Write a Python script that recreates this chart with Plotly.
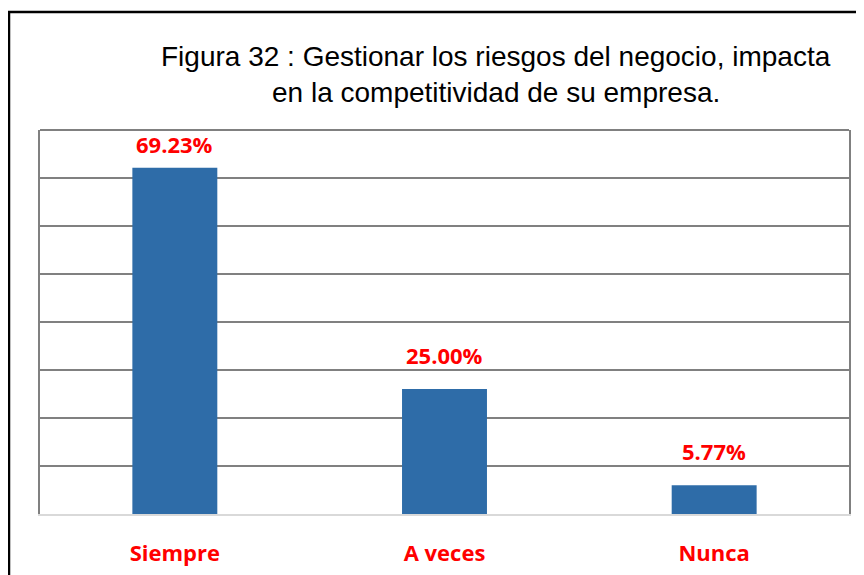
import plotly.graph_objects as go

categories = ["Siempre", "A veces", "Nunca"]
values = [69.23, 25.00, 5.77]
value_labels = ["69.23%", "25.00%", "5.77%"]
title_lines = ["Figura 32 : Gestionar los riesgos del negocio, impacta",
               "en la competitividad de su empresa."]

RED = "#FF0000"
BAR = "#2E6CA8"
GRID = "#808080"
LABEL_FONT = dict(family="Open Sans", size=22, color=RED)

fig = go.Figure()
fig.add_trace(go.Bar(
    x=categories, y=values, width=0.315,
    marker=dict(color=BAR, line=dict(width=0)),
    hoverinfo="skip",
))

# data labels above bars
shifts = [24, 34, 34]
for c, v, t, s in zip(categories, values, value_labels, shifts):
    fig.add_annotation(x=c, y=v, text="<b>%s</b>" % t, showarrow=False,
                       yanchor="middle", yshift=s, font=LABEL_FONT)

# title (two lines)
fig.add_annotation(xref="paper", yref="paper", x=0.5637, y=(514 - 57) / 384,
                   text=title_lines[0], showarrow=False, yanchor="middle",
                   font=dict(family="Liberation Sans", size=28, color="#000000"))
fig.add_annotation(xref="paper", yref="paper", x=0.5637, y=(514 - 93) / 384,
                   text=title_lines[1], showarrow=False, yanchor="middle",
                   font=dict(family="Liberation Sans", size=28, color="#000000"))

# top border of plot area
fig.add_shape(type="line", xref="paper", yref="paper", x0=0, x1=1, y0=1, y1=1,
              line=dict(color=GRID, width=2))
# outer frame (open on right/bottom as in the reference crop)
fig.add_shape(type="rect", xref="paper", yref="paper",
              x0=(9 - 40) / 809, x1=(880 - 40) / 809,
              y0=(514 - 600) / 384, y1=(514 - 12) / 384,
              line=dict(color="#000000", width=2.5), layer="above")

fig.update_layout(
    width=856, height=567,
    margin=dict(l=32, r=15, t=122, b=61, autoexpand=False),
    paper_bgcolor="white", plot_bgcolor="white",
    showlegend=False,
    bargap=0.685,
    xaxis=dict(
        automargin=False,
        showgrid=False, showline=True, linecolor="#D9D9D9", linewidth=2,
        ticks="outside", ticklen=19, tickcolor="rgba(0,0,0,0)",
        tickfont=LABEL_FONT,
        tickvals=categories,
        ticktext=["<b>%s</b>" % c for c in categories],
    ),
    yaxis=dict(
        automargin=False,
        range=[0, 76.8], dtick=9.6, tick0=0,
        showticklabels=False, showgrid=True, gridcolor=GRID, gridwidth=1.5,
        zeroline=False, showline=True, mirror=True, linecolor=GRID, linewidth=2,
    ),
)

fig.write_html("out.html")
